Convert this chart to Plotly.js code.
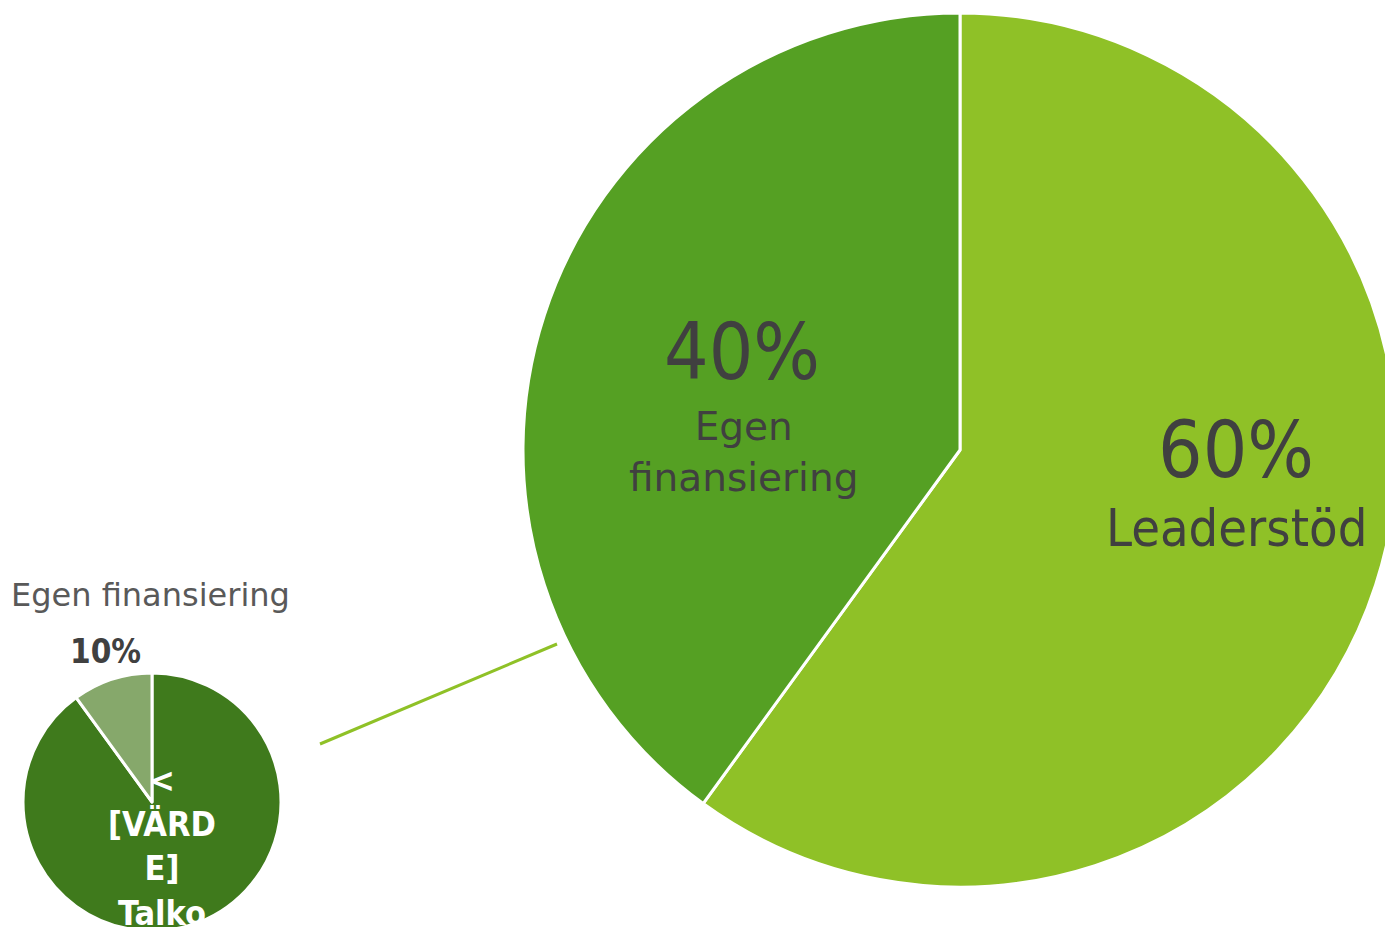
<!DOCTYPE html>
<html>
<head>
<meta charset="utf-8">
<script src="https://cdn.plot.ly/plotly-3.0.1.min.js"></script>
<style>
html,body{margin:0;padding:0;overflow:hidden;background:#fff;}
#chart{width:1410px;height:940px;}
</style>
</head>
<body>
<div id="chart"></div>
<script>
// Main pie: financing split
const mainLabels = ['Leaderstöd', 'Egen finansiering'];
const mainValues = [60, 40];
const mainColors = ['#8fc127', '#55a023'];

// Sub pie: breakdown of own financing
const subLabels = ['[VÄRDE] Talko', 'Egen finansiering'];
const subValues = [90, 10];
const subColors = ['#3f7a1c', '#86a86b'];

const W = 1410, H = 940;
const px = x => x / W;
const py = y => 1 - y / H;

const COND = 'DejaVu Sans Condensed, DejaVu Sans, sans-serif';
const WIDE = 'DejaVu Sans, sans-serif';

const traces = [
  {
    type: 'pie',
    labels: mainLabels,
    values: mainValues,
    marker: {colors: mainColors, line: {color: '#ffffff', width: 3}},
    sort: false,
    direction: 'clockwise',
    rotation: 0,
    textinfo: 'none',
    hoverinfo: 'none',
    showlegend: false,
    domain: {x: [px(523), px(1397)], y: [py(887), py(13)]}
  },
  {
    type: 'pie',
    labels: subLabels,
    values: subValues,
    marker: {colors: subColors, line: {color: '#ffffff', width: 3}},
    sort: false,
    direction: 'clockwise',
    rotation: 0,
    textinfo: 'none',
    hoverinfo: 'none',
    showlegend: false,
    domain: {x: [px(23), px(281)], y: [py(931), py(673)]}
  }
];

const dark = '#404040';
const annotations = [
  {x: px(742), y: py(352), text: mainValues[1] + '%', font: {family: COND, size: 78, color: dark}},
  {x: px(743), y: py(452), text: 'Egen<br>finansiering', font: {family: WIDE, size: 39, color: dark}},
  {x: px(1236), y: py(450), text: mainValues[0] + '%', font: {family: COND, size: 78, color: dark}},
  {x: px(1236), y: py(528), text: mainLabels[0], font: {family: COND, size: 52, color: dark}},
  {x: px(9), y: py(595), xanchor: 'left', text: subLabels[1], font: {family: WIDE, size: 32, color: '#595959'}},
  {x: px(105), y: py(651), text: '<b>' + subValues[1] + '%</b>', font: {family: COND, size: 33, color: dark}},
  {x: px(162), y: py(846), text: '<b>&lt;<br>[VÄRD<br>E]<br>Talko</b>', font: {family: COND, size: 34, color: '#ffffff'}}
].map(a => Object.assign({xref: 'paper', yref: 'paper', showarrow: false, xanchor: 'center', yanchor: 'middle'}, a));

const layout = {
  width: W,
  height: H,
  margin: {l: 0, r: 0, t: 0, b: 0},
  paper_bgcolor: '#ffffff',
  plot_bgcolor: '#ffffff',
  showlegend: false,
  annotations: annotations,
  shapes: [
    {type: 'line', xref: 'paper', yref: 'paper', x0: px(320), y0: py(744), x1: px(557), y1: py(644),
     line: {color: '#8fc127', width: 3}}
  ]
};

Plotly.newPlot('chart', traces, layout, {displayModeBar: false, staticPlot: true});
</script>
</body>
</html>
